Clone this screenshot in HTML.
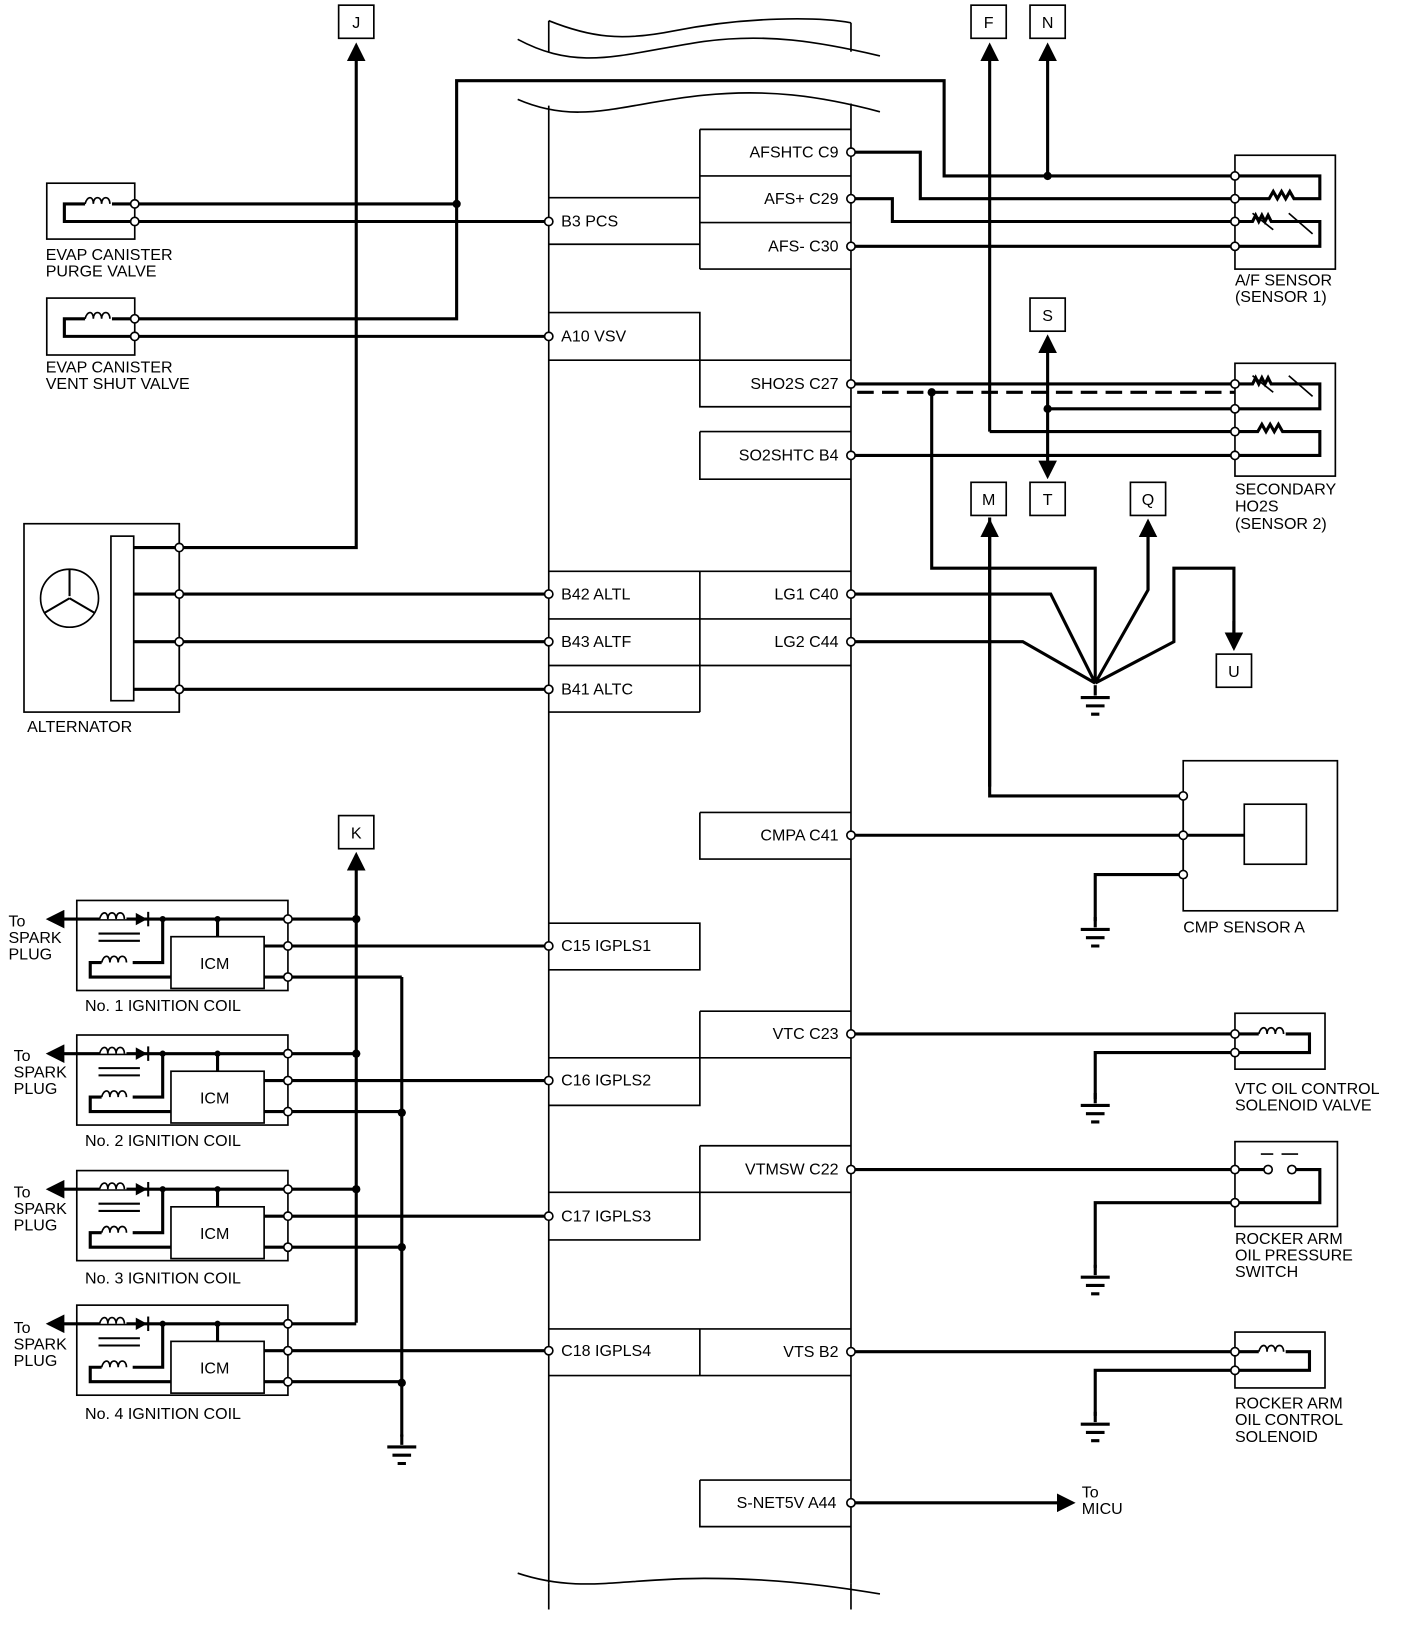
<!DOCTYPE html>
<html><head><meta charset="utf-8"><style>
html,body{margin:0;padding:0;background:#fff;}
svg{display:block;}
text{font-family:"Liberation Sans",Arial,sans-serif;font-size:15.5px;fill:#000;}
.w{stroke:#000;stroke-width:3;fill:none;stroke-linejoin:miter;}
.t{stroke:#000;stroke-width:1.6;fill:none;}
.p{fill:#fff;stroke:#000;stroke-width:1.6;}
.d{fill:#000;}
</style></head><body>
<svg width="1408" height="1626" viewBox="0 0 1360 1571" xmlns="http://www.w3.org/2000/svg">
<defs>
<g id="gnd"><path class="w" d="M0 0V10"/><path class="w" d="M-14 12H14M-9 20H9M-4 28H4"/></g>
<marker id="ar" markerWidth="6" markerHeight="6" refX="5" refY="3" orient="auto" markerUnits="strokeWidth"><path d="M0 0L6 3L0 6z"/></marker>
</defs>

<path class="t" d="M500 38C560 70 600 52 680 40C740 32 790 40 850 54"/>
<path class="t" d="M500 96C560 122 600 100 680 92C740 86 790 92 850 108"/>
<path class="t" d="M530 20C570 36 600 40 650 30C720 16 790 16 822 22"/>
<path class="t" d="M530 20V50M822 22V50M530 102V1530M822 100V1530"/>
<path class="t" d="M500 1520C560 1540 600 1525 680 1525C740 1525 790 1530 850 1540"/>
<path class="t" d="M530 1530V1555M822 1530V1555"/>

<path class="t" d="M676 125H822M676 170H822M676 215H822M676 260H822M676 125V260M530 191H676M530 236H676"/>
<path class="t" d="M530 302H676V393H822M530 348H822M676 417H822M676 417V463H822"/>
<path class="t" d="M530 552H822M530 598H822M530 643H822M530 688H676M676 552V688"/>
<path class="t" d="M676 785H822M676 785V830H822"/>
<path class="t" d="M530 892H676V937H530"/>
<path class="t" d="M676 977H822M676 977V1068H530M530 1022H822"/>
<path class="t" d="M676 1107H822M676 1107V1198H530M530 1152H822"/>
<path class="t" d="M530 1284H822M530 1329H822M676 1284V1329"/>
<path class="t" d="M676 1430H822M676 1430V1475H822"/>

<g text-anchor="end">
<text x="810" y="152">AFSHTC C9</text><text x="810" y="197">AFS+ C29</text><text x="810" y="243">AFS- C30</text>
<text x="810" y="376">SHO2S C27</text><text x="810" y="445">SO2SHTC B4</text>
<text x="810" y="579">LG1 C40</text><text x="810" y="625">LG2 C44</text><text x="810" y="812">CMPA C41</text>
<text x="810" y="1004">VTC C23</text><text x="810" y="1135">VTMSW C22</text><text x="810" y="1311">VTS B2</text>
<text x="808" y="1457">S-NET5V A44</text>
</g>
<text x="542" y="219">B3 PCS</text><text x="542" y="330">A10 VSV</text>
<text x="542" y="579">B42 ALTL</text><text x="542" y="625">B43 ALTF</text><text x="542" y="671">B41 ALTC</text>
<text x="542" y="919">C15 IGPLS1</text><text x="542" y="1049">C16 IGPLS2</text><text x="542" y="1180">C17 IGPLS3</text><text x="542" y="1310">C18 IGPLS4</text>

<rect class="t" x="45" y="177" width="85" height="54"/>
<path class="w" d="M130 197H108M82 197H62V214H130"/>
<path class="t" d="M82 197c2-8 8-8 8 0c0-8 8-8 8 0c0-8 8-8 8 0"/>
<text x="44" y="251">EVAP CANISTER</text><text x="44" y="267">PURGE VALVE</text>
<path class="w" d="M130 197H441M130 214H530"/>
<rect class="t" x="45" y="288" width="85" height="55"/>
<path class="w" d="M130 308H108M82 308H62V325H130"/>
<path class="t" d="M82 308c2-8 8-8 8 0c0-8 8-8 8 0c0-8 8-8 8 0"/>
<text x="44" y="360">EVAP CANISTER</text><text x="44" y="376">VENT SHUT VALVE</text>
<path class="w" d="M130 308H441V78H912V170H1193M130 325H530"/>
<circle class="d" cx="441" cy="197" r="4"/>
<circle class="d" cx="1012" cy="170" r="4"/>
<path class="w" d="M1012 170V44" marker-end="url(#ar)"/>

<g class="t">
<rect x="327" y="5" width="34" height="32"/><rect x="938" y="5" width="34" height="32"/><rect x="995" y="5" width="34" height="32"/>
<rect x="995" y="288" width="34" height="32"/><rect x="938" y="466" width="34" height="32"/><rect x="995" y="466" width="34" height="32"/>
<rect x="1092" y="466" width="34" height="32"/><rect x="1175" y="632" width="34" height="32"/><rect x="327" y="788" width="34" height="32"/>
</g>
<g text-anchor="middle">
<text x="344" y="27">J</text><text x="955" y="27">F</text><text x="1012" y="27">N</text><text x="1012" y="310">S</text>
<text x="955" y="488">M</text><text x="1012" y="488">T</text><text x="1109" y="488">Q</text><text x="1192" y="654">U</text><text x="344" y="810">K</text>
</g>

<rect class="t" x="23" y="506" width="150" height="182"/>
<rect class="t" x="107" y="518" width="22" height="159"/>
<circle class="t" cx="67" cy="578" r="28"/>
<path class="w" d="M67 550V576M67 578L43 592M67 578L91 592" style="stroke-width:2"/>
<text x="26" y="707">ALTERNATOR</text>
<path class="w" d="M129 529H344V44" marker-end="url(#ar)"/>
<path class="w" d="M129 574H530M129 620H530M129 666H530"/>
<path class="t" d="M173 506V688"/>
<g class="p"><circle cx="173" cy="529" r="4"/><circle cx="173" cy="574" r="4"/><circle cx="173" cy="620" r="4"/><circle cx="173" cy="666" r="4"/></g>

<path class="w" d="M822 147H889V192H1193M822 192H862V214H1193M822 238H1193"/>
<rect class="t" x="1193" y="150" width="97" height="110"/>
<path class="w" d="M1193 170H1275V192H1250l-4-7-4 7-4-7-4 7-4-7-4 7H1193M1193 214H1210l3-6 3 6 3-6 3 6 3-6 3 6H1275V238H1193"/>
<path class="t" d="M1210 206L1230 222M1245 206L1268 226"/>
<text x="1193" y="276">A/F SENSOR</text><text x="1193" y="292">(SENSOR 1)</text>

<rect class="t" x="1193" y="351" width="97" height="109"/>
<path class="w" d="M822 371H1193M1193 371H1210l3-6 3 6 3-6 3 6 3-6 3 6H1275V395H1193M1193 417H1215l4-7 4 7 4-7 4 7 4-7 4 7H1275V440H1193"/>
<path class="t" d="M1210 363L1230 379M1245 363L1268 383"/>
<path class="w" d="M828 379H1193" stroke-dasharray="16 8"/>
<path class="w" d="M956 417H1193"/>
<path class="w" d="M956 417V44" marker-end="url(#ar)"/>
<path class="w" d="M822 440H1193"/>
<path class="w" d="M1012 395H1193"/>
<path class="w" d="M1012 395V326" marker-end="url(#ar)"/>
<path class="w" d="M1012 395V460" marker-end="url(#ar)"/>
<circle class="d" cx="1012" cy="395" r="4"/>
<circle class="d" cx="900" cy="379" r="4"/>
<text x="1193" y="478">SECONDARY</text><text x="1193" y="494">HO2S</text><text x="1193" y="511">(SENSOR 2)</text>

<path class="w" d="M900 379V549H1058V660M822 574H1015L1058 660M822 620H988L1058 660M1109 504V570L1058 660M1058 660L1134 620V549H1192V626"/>
<path class="w" d="M1109 570V504" marker-end="url(#ar)"/>
<path class="w" d="M1192 600V626" marker-end="url(#ar)"/>
<use href="#gnd" x="1058" y="662"/>

<rect class="t" x="1143" y="735" width="149" height="145"/>
<rect class="t" x="1202" y="777" width="60" height="58"/>
<path class="w" d="M956 500V769H1143M822 807H1202M1143 845H1058V890"/>
<path class="w" d="M956 760V504" marker-end="url(#ar)"/>
<path class="t" d="M1143 769V845"/>
<use href="#gnd" x="1058" y="886"/>
<text x="1143" y="901">CMP SENSOR A</text>

<path class="w" d="M344 1278V826" marker-end="url(#ar)"/>
<path class="w" d="M388 944V1388"/>
<use href="#gnd" x="388" y="1386"/>

<g id="coil1" transform="translate(0,0)">
<rect class="t" x="74" y="870" width="204" height="87"/>
<rect class="t" x="165" y="905" width="90" height="50"/>
<text x="193" y="936">ICM</text>
<path class="w" d="M278 888H47M157 888V930H128M98 930H87V944H165M210 888V905M255 914H278M255 944H278"/>
<path class="w" d="M60 888H47" marker-end="url(#ar)"/>
<path fill="#fff" stroke="none" d="M96 883h26v5h-26z"/>
<path class="t" d="M96 888c2-8 8-8 8 0c0-8 8-8 8 0c0-8 8-8 8 0M98 930c2-8 8-8 8 0c0-8 8-8 8 0c0-8 8-8 8 0"/>
<path class="d" d="M131 882L142 888L131 894z"/><path class="w" d="M143 881V895" style="stroke-width:2"/>
<path class="w" d="M95 902H135M95 909H135" style="stroke-width:2"/>
<circle class="d" cx="157" cy="888" r="3"/><circle class="d" cx="210" cy="888" r="3"/>
<g class="p"><circle cx="278" cy="888" r="4"/><circle cx="278" cy="914" r="4"/><circle cx="278" cy="944" r="4"/></g>
</g>
<path class="w" d="M282 888H344M282 914H530M282 944H388"/>
<circle class="d" cx="344" cy="888" r="4"/>
<text x="82" y="977">No. 1 IGNITION COIL</text>
<text x="8" y="895">To</text><text x="8" y="911">SPARK</text><text x="8" y="927">PLUG</text>

<use href="#coil1" y="130"/>
<path class="w" d="M282 1018H344M282 1044H530M282 1074H388"/>
<circle class="d" cx="344" cy="1018" r="4"/><circle class="d" cx="388" cy="1075" r="4"/>
<text x="82" y="1107">No. 2 IGNITION COIL</text>
<text x="13" y="1025">To</text><text x="13" y="1041">SPARK</text><text x="13" y="1057">PLUG</text>

<use href="#coil1" y="261"/>
<path class="w" d="M282 1149H344M282 1175H530M282 1205H388"/>
<circle class="d" cx="344" cy="1149" r="4"/><circle class="d" cx="388" cy="1205" r="4"/>
<text x="82" y="1240">No. 3 IGNITION COIL</text>
<text x="13" y="1157">To</text><text x="13" y="1173">SPARK</text><text x="13" y="1189">PLUG</text>

<use href="#coil1" y="391"/>
<path class="w" d="M282 1279H344M282 1305H530M282 1335H388"/>
<circle class="d" cx="388" cy="1336" r="4"/>
<text x="82" y="1371">No. 4 IGNITION COIL</text>
<text x="13" y="1288">To</text><text x="13" y="1304">SPARK</text><text x="13" y="1320">PLUG</text>

<rect class="t" x="1193" y="979" width="87" height="54"/>
<path class="w" d="M822 999H1216M1242 999H1265V1017H1193M1193 1017H1058V1062"/>
<path class="t" d="M1216 999c2-8 8-8 8 0c0-8 8-8 8 0c0-8 8-8 8 0"/>
<use href="#gnd" x="1058" y="1056"/>
<text x="1193" y="1057">VTC OIL CONTROL</text><text x="1193" y="1073">SOLENOID VALVE</text>

<rect class="t" x="1193" y="1103" width="99" height="82"/>
<path class="w" d="M822 1130H1222M1250 1130H1275V1162H1193M1193 1162H1058V1225"/>
<circle class="p" cx="1225" cy="1130" r="4"/><circle class="p" cx="1248" cy="1130" r="4"/>
<path class="t" d="M1218 1115H1230M1238 1115H1254"/>
<use href="#gnd" x="1058" y="1222"/>
<text x="1193" y="1202">ROCKER ARM</text><text x="1193" y="1218">OIL PRESSURE</text><text x="1193" y="1234">SWITCH</text>

<rect class="t" x="1193" y="1287" width="87" height="54"/>
<path class="w" d="M822 1306H1216M1242 1306H1265V1324H1193M1193 1324H1058V1368"/>
<path class="t" d="M1216 1306c2-8 8-8 8 0c0-8 8-8 8 0c0-8 8-8 8 0"/>
<use href="#gnd" x="1058" y="1364"/>
<text x="1193" y="1361">ROCKER ARM</text><text x="1193" y="1377">OIL CONTROL</text><text x="1193" y="1393">SOLENOID</text>

<path class="w" d="M822 1452H1036" marker-end="url(#ar)"/>
<text x="1045" y="1447">To</text><text x="1045" y="1463">MICU</text>

<g class="p">
<circle cx="822" cy="147" r="4"/><circle cx="822" cy="192" r="4"/><circle cx="822" cy="238" r="4"/>
<circle cx="822" cy="371" r="4"/><circle cx="822" cy="440" r="4"/><circle cx="822" cy="574" r="4"/><circle cx="822" cy="620" r="4"/>
<circle cx="822" cy="807" r="4"/><circle cx="822" cy="999" r="4"/><circle cx="822" cy="1130" r="4"/><circle cx="822" cy="1306" r="4"/><circle cx="822" cy="1452" r="4"/>
<circle cx="530" cy="214" r="4"/><circle cx="530" cy="325" r="4"/><circle cx="530" cy="574" r="4"/><circle cx="530" cy="620" r="4"/><circle cx="530" cy="666" r="4"/>
<circle cx="530" cy="914" r="4"/><circle cx="530" cy="1044" r="4"/><circle cx="530" cy="1175" r="4"/><circle cx="530" cy="1305" r="4"/>
<circle cx="130" cy="197" r="4"/><circle cx="130" cy="214" r="4"/><circle cx="130" cy="308" r="4"/><circle cx="130" cy="325" r="4"/>
<circle cx="1193" cy="170" r="4"/><circle cx="1193" cy="192" r="4"/><circle cx="1193" cy="214" r="4"/><circle cx="1193" cy="238" r="4"/>
<circle cx="1193" cy="371" r="4"/><circle cx="1193" cy="395" r="4"/><circle cx="1193" cy="417" r="4"/><circle cx="1193" cy="440" r="4"/>
<circle cx="1143" cy="769" r="4"/><circle cx="1143" cy="807" r="4"/><circle cx="1143" cy="845" r="4"/>
<circle cx="1193" cy="999" r="4"/><circle cx="1193" cy="1017" r="4"/><circle cx="1193" cy="1130" r="4"/><circle cx="1193" cy="1162" r="4"/>
<circle cx="1193" cy="1306" r="4"/><circle cx="1193" cy="1324" r="4"/>
</g>
</svg>
</body></html>
